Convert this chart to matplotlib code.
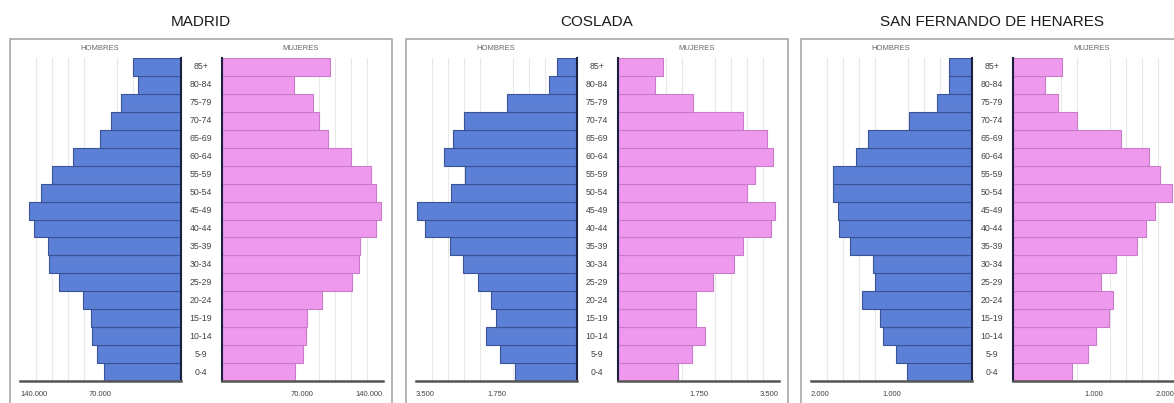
import matplotlib
matplotlib.use('Agg')
import matplotlib.pyplot as plt
from matplotlib.patches import Rectangle
from matplotlib import transforms
from matplotlib import font_manager

W, H = 1174, 403

ages = ['0-4', '5-9', '10-14', '15-19', '20-24', '25-29', '30-34', '35-39', '40-44',
        '45-49', '50-54', '55-59', '60-64', '65-69', '70-74', '75-79', '80-84', '85+']

titles = ['MADRID', 'COSLADA', 'SAN FERNANDO DE HENARES']

madrid_hombres = [66700, 73300, 77100, 78300, 85500, 105800, 114500, 115900, 127500,
                  131900, 121700, 112500, 94200, 70400, 60900, 52200, 37100, 42000]
madrid_mujeres = [63500, 70100, 73000, 74200, 86600, 113200, 119200, 119800, 134200,
                  138000, 133600, 129900, 112600, 92400, 84600, 79400, 62900, 93800]

coslada_hombres = [1345, 1673, 1988, 1768, 1878, 2156, 2477, 2755, 3303,
                   3485, 2733, 2426, 2886, 2696, 2448, 1513, 599, 438]
coslada_mujeres = [1313, 1604, 1881, 1699, 1699, 2056, 2516, 2720, 3318,
                   3405, 2807, 2975, 3376, 3230, 2720, 1641, 802, 984]

sanfer_hombres = [812, 948, 1105, 1146, 1369, 1204, 1225, 1518, 1649,
                  1662, 1732, 1732, 1443, 1287, 784, 433, 280, 280]
sanfer_mujeres = [737, 932, 1027, 1193, 1242, 1089, 1275, 1536, 1648,
                  1760, 1979, 1822, 1689, 1338, 791, 563, 398, 605]

max_values = [140000, 3500, 2000]
tick_labels = [['140.000', '70.000'], ['3.500', '1.750'], ['2.000', '1.000']]

hombres = [madrid_hombres, coslada_hombres, sanfer_hombres]
mujeres = [madrid_mujeres, coslada_mujeres, sanfer_mujeres]

names = {f.name for f in font_manager.fontManager.ttflist}
narrow = 'Liberation Sans Narrow' if 'Liberation Sans Narrow' in names else 'Liberation Sans'
FAM = [narrow, 'DejaVu Sans']

MALE = '#5c80d6'
MALE_EDGE = '#3a5398'
FEMALE = '#ee99ee'
FEMALE_EDGE = '#c67cc6'
GRID = '#e8e8e8'

fig = plt.figure(figsize=(W / 100, H / 100), dpi=100)


def add_ax(x0, x1, y0, y1):
    return fig.add_axes([x0 / W, 1 - y1 / H, (x1 - x0) / W, (y1 - y0) / H])


frame_lefts = [10, 406, 801]
BAR_TOP, BAR_BOT = 58, 381

for i in range(3):
    fl = frame_lefts[i]
    mx = max_values[i]
    # frame
    fig.patches.append(Rectangle((fl / W, -0.05), 382 / W, 0.05 + 1 - 39 / H,
                                 transform=fig.transFigure, fill=False,
                                 edgecolor='#a8a8a8', linewidth=1.2, zorder=0))
    fig.text((fl + 191) / W, 1 - 22 / H, titles[i], ha='center', va='center',
             fontsize=11, family=FAM, color='#1a1a1a')
    fig.text((fl + 90) / W, 1 - 48 / H, 'HOMBRES', ha='center', va='center',
             fontsize=5.5, family=FAM, color='#666666')
    fig.text((fl + 291) / W, 1 - 48 / H, 'MUJERES', ha='center', va='center',
             fontsize=5.5, family=FAM, color='#666666')

    axm = add_ax(fl + 10, fl + 171, BAR_TOP, BAR_BOT)
    axf = add_ax(fl + 212, fl + 373, BAR_TOP, BAR_BOT)
    y = list(range(len(ages)))
    axm.barh(y, hombres[i], height=1.0, color=MALE, edgecolor=MALE_EDGE,
             linewidth=0.8, zorder=2)
    axf.barh(y, mujeres[i], height=1.0, color=FEMALE, edgecolor=FEMALE_EDGE,
             linewidth=0.8, zorder=2)
    axm.set_xlim(mx, 0)
    axf.set_xlim(0, mx)
    for ax in (axm, axf):
        ax.set_ylim(-0.5, len(ages) - 0.5)
        ax.set_yticks([])
        ax.set_xticks([k * mx / 10 for k in range(1, 10)], minor=True)
        ax.grid(True, which='minor', axis='x', color=GRID, linewidth=0.8, zorder=0)
        ax.set_axisbelow(True)
        ax.patch.set_alpha(0)
        for s in ('top', 'left', 'right'):
            ax.spines[s].set_visible(False)
        ax.spines['bottom'].set_color('#555555')
        ax.spines['bottom'].set_linewidth(1.8)
        ax.tick_params(axis='x', which='both', length=0, labelsize=5.5,
                       labelcolor='#444444', pad=7)
    axm.spines['right'].set_visible(True)
    axm.spines['right'].set_color('#1c2040')
    axm.spines['right'].set_linewidth(1.5)
    axf.spines['left'].set_visible(True)
    axf.spines['left'].set_color('#1c2040')
    axf.spines['left'].set_linewidth(1.5)

    axm.set_xticks([mx, mx / 2])
    axm.set_xticklabels(tick_labels[i], family=FAM)
    axf.set_xticks([mx / 2, mx])
    axf.set_xticklabels([tick_labels[i][1], tick_labels[i][0]], family=FAM)
    axm.get_xticklabels()[0].set_ha('left')
    axf.get_xticklabels()[1].set_ha('right')

    trans = transforms.blended_transform_factory(fig.transFigure, axm.transData)
    for k, a in enumerate(ages):
        fig.text((fl + 191) / W, k, a, transform=trans, ha='center', va='center',
                 fontsize=6.3, family=FAM, color='#444444')

fig.savefig('out.png', dpi=100)
